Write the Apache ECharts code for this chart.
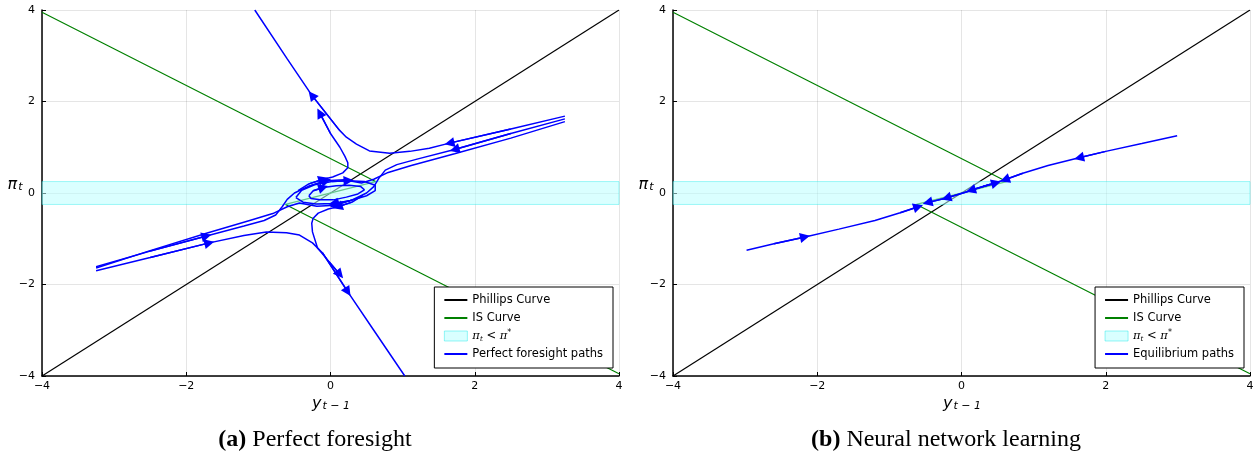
<!DOCTYPE html>
<html>
<head>
<meta charset="utf-8">
<script src="https://cdn.jsdelivr.net/npm/echarts@6/dist/echarts.min.js"></script>
<style>html,body{margin:0;padding:0;background:#fff}#c{width:1257px;height:461px}</style>
</head>
<body>
<div id="c"></div>
<script>
// ---------- data ----------
const ticks = [-4, -2, 0, 2, 4];
const phillipsX = [-4, 4];
const phillipsY = [-4, 4];
const isX = [-4, 0.625, -0.625, 4];
const isY = [3.95, 0.25, -0.25, -3.95];
const bandLow = -0.25, bandHigh = 0.25;

// (a) perfect foresight paths  [y_{t-1}, pi_t]
const pathA  = [[3.25,1.68],[2.5,1.40],[1.65,1.09],[1.37,0.98],[1.1,0.91],[0.82,0.87],[0.54,0.92],[0.36,1.07],[0.22,1.22],[0.12,1.38],[-0.26,2.14],[-0.6,2.93],[-1.05,4.0]];
const pathA2 = [[-3.25,-1.70],[-2.5,-1.41],[-1.68,-1.09],[-1.2,-0.93],[-0.89,-0.85],[-0.61,-0.87],[-0.43,-0.92],[-0.25,-1.09],[-0.11,-1.31],[0.24,-2.16],[0.6,-3.0],[1.03,-4.0]];
const pathP3 = [[3.25,1.62],[2.5,1.30],[1.72,0.95],[1.2,0.74],[0.92,0.62],[0.76,0.5],[0.67,0.32],[0.6,0.14],[0.5,0.0],[0.3,-0.15],[0.06,-0.27],[-0.19,-0.29],[-0.43,-0.22],[-0.6,-0.3],[-0.8,-0.45],[-1.12,-0.6],[-1.72,-0.88],[-2.5,-1.26],[-3.25,-1.64]];
const pathP4 = [[-3.25,-1.61],[-2.5,-1.27],[-1.72,-0.94],[-1.2,-0.72],[-0.92,-0.6],[-0.76,-0.48],[-0.67,-0.3],[-0.6,-0.14],[-0.5,0.0],[-0.3,0.15],[-0.06,0.27],[0.19,0.29],[0.43,0.22],[0.6,0.3],[0.8,0.45],[1.12,0.6],[1.72,0.86],[2.5,1.2],[3.25,1.56]];
const loop1  = [[-0.48,-0.1],[-0.4,0.06],[-0.22,0.18],[0.02,0.25],[0.25,0.27],[0.47,0.25],[0.62,0.17],[0.62,0.05],[0.5,-0.06],[0.27,-0.17],[0.04,-0.23],[-0.2,-0.24],[-0.38,-0.2],[-0.48,-0.1]];
const loop2  = [[-0.3,-0.06],[-0.24,0.05],[-0.1,0.12],[0.08,0.16],[0.26,0.17],[0.42,0.14],[0.47,0.07],[0.38,-0.02],[0.22,-0.09],[0.04,-0.15],[-0.14,-0.15],[-0.27,-0.12],[-0.3,-0.06]];
const pathB  = [[-0.45,0.05],[-0.3,0.2],[-0.1,0.3],[0.03,0.35],[0.17,0.44],[0.24,0.55],[0.24,0.66],[0.2,0.8],[0.13,1.0],[0.0,1.3],[-0.15,1.75]];
const pathB2 = [[0.45,-0.05],[0.3,-0.2],[0.1,-0.3],[-0.03,-0.35],[-0.17,-0.44],[-0.24,-0.55],[-0.26,-0.66],[-0.25,-0.85],[-0.18,-1.2],[-0.02,-1.5],[0.13,-1.78]];
const pathsLeft = [pathA, pathA2, pathP3, pathP4, loop1, loop2, pathB, pathB2];
// arrow heads: [path index, point index]
const arrowsLeft = [[0,2],[0,10],[1,2],[1,9],[2,2],[2,10],[3,2],[3,10],[4,4],[4,10],[5,2],[6,2],[6,10],[7,2],[7,10]];

// (b) neural network learning paths
const pathR1 = [[2.99,1.25],[2.5,1.08],[2.0,0.91],[1.63,0.77],[1.2,0.6],[0.85,0.43],[0.6,0.29],[0.4,0.19],[0.13,0.06]];
const pathR2 = [[-2.98,-1.25],[-2.6,-1.11],[-2.17,-0.96],[-1.7,-0.79],[-1.2,-0.6],[-0.85,-0.43],[-0.6,-0.3]];
const pathR3 = [[0.13,0.06],[0.3,0.14],[0.48,0.22]];
const pathR4 = [[0.1,0.04],[-0.21,-0.11],[-0.47,-0.21]];
const pathsRight = [pathR1, pathR2, pathR3, pathR4];
const arrowsRight = [[0,3],[0,6],[0,8],[1,2],[1,6],[2,2],[3,1],[3,2]];

// ---------- build ----------
const BLUE = '#0000ff', GREEN = '#008000';
const fmt = v => v < 0 ? '\u2212' + Math.abs(v) : String(v);
const zip = (a, b) => a.map((v, i) => [v, b[i]]);

function axis(idx, isX) {
  return {
    type: 'value', gridIndex: idx, min: -4, max: 4, interval: 2,
    axisLine: { show: true, onZero: false, lineStyle: { color: '#000', width: 1.5 } },
    axisTick: { show: true, inside: true, length: 4, lineStyle: { color: '#000', width: 1 } },
    axisLabel: { color: '#000', fontSize: 11, fontFamily: 'DejaVu Sans', margin: isX ? 5 : 7, formatter: fmt },
    splitLine: { show: true, showMinLine: true, showMaxLine: true, lineStyle: { color: 'rgba(0,0,0,0.1)', width: 1 } }
  };
}

function panelSeries(idx, paths, arrows, pathName) {
  const s = [];
  s.push({ name: 'Phillips Curve', type: 'line', xAxisIndex: idx, yAxisIndex: idx, data: zip(phillipsX, phillipsY),
    symbol: 'none', lineStyle: { color: '#000', width: 1.2 }, itemStyle: { color: '#000' }, z: 2, silent: true, animation: false });
  s.push({ name: 'IS Curve', type: 'line', xAxisIndex: idx, yAxisIndex: idx, data: zip(isX, isY),
    symbol: 'none', lineStyle: { color: GREEN, width: 1.2 }, itemStyle: { color: GREEN }, z: 2, silent: true, animation: false });
  s.push({ name: 'band', type: 'line', xAxisIndex: idx, yAxisIndex: idx, data: [],
    symbol: 'none', itemStyle: { color: 'rgba(0,255,255,0.15)' }, animation: false,
    markArea: { silent: true, z: 3, animation: false,
      itemStyle: { color: 'rgba(188,255,255,0.55)', borderColor: 'rgba(0,230,230,0.35)', borderWidth: 1 },
      data: [[{ yAxis: bandLow }, { yAxis: bandHigh }]] } });
  paths.forEach(p => s.push({ name: pathName, type: 'line', xAxisIndex: idx, yAxisIndex: idx, data: p,
    symbol: 'none', lineStyle: { color: BLUE, width: 1.5 }, itemStyle: { color: BLUE }, z: 5, silent: true, animation: false }));
  s.push({ name: 'arrows' + idx, type: 'lines', coordinateSystem: 'cartesian2d', xAxisIndex: idx, yAxisIndex: idx,
    symbol: ['none', 'triangle'], symbolSize: 10, z: 6, silent: true, animation: false,
    lineStyle: { color: BLUE, width: 1.5, curveness: 0, opacity: 1 },
    data: arrows.map(([pi, k]) => ({ coords: [paths[pi][k - 1], paths[pi][k]] })) });
  return s;
}

const legendRich = {
  m: { fontFamily: 'DejaVu Serif', fontStyle: 'italic', fontSize: 11.5, lineHeight: 14, verticalAlign: 'middle' },
  s: { fontFamily: 'DejaVu Serif', fontStyle: 'italic', fontSize: 7, lineHeight: 7, padding: [6, 0, 0, 0], verticalAlign: 'bottom' },
  p: { fontFamily: 'DejaVu Sans', fontSize: 8, lineHeight: 8, padding: [0, 0, 6, 0], verticalAlign: 'top' }
};
const noSym = { opacity: 0 };
function legend(right, pathName) {
  return {
    orient: 'vertical', right: right, top: 287, itemWidth: 23, itemHeight: 10, itemGap: 4,
    padding: [6, 10, 7, 9], borderColor: '#000', borderWidth: 1, backgroundColor: '#fff', borderRadius: 0,
    selectedMode: false,
    textStyle: { fontFamily: 'DejaVu Sans', fontSize: 11.5, color: '#000', lineHeight: 14, rich: legendRich },
    formatter: n => n === 'band' ? '{m|π}{s|t} < {m|π}{p|*}' : n,
    data: [
      { name: 'Phillips Curve', itemStyle: noSym },
      { name: 'IS Curve', itemStyle: noSym },
      { name: 'band', icon: 'rect', itemStyle: { color: 'rgba(0,255,255,0.15)', borderColor: 'rgba(0,230,230,0.4)', borderWidth: 1 } },
      { name: pathName, itemStyle: noSym }
    ]
  };
}

const axRich = {
  m: { fontFamily: 'DejaVu Sans', fontStyle: 'italic', fontSize: 16, lineHeight: 16, verticalAlign: 'top', fill: '#000' },
  s: { fontFamily: 'DejaVu Sans', fontStyle: 'italic', fontSize: 11, lineHeight: 11, padding: [8, 0, 0, 1], verticalAlign: 'bottom', fill: '#000' }
};
function axisNames(x0) {
  return [
    { type: 'text', x: x0 + 289, y: 404, style: { text: '{m|y}{s|t \u2212 1}', rich: axRich, align: 'center', verticalAlign: 'middle' } },
    { type: 'text', x: x0 - 27, y: 185, style: { text: '{m|π}{s|t}', rich: axRich, align: 'center', verticalAlign: 'middle' } }
  ];
}
const capRich = {
  b: { fontFamily: 'Liberation Serif', fontWeight: 'bold', fontSize: 24, fill: '#000' },
  r: { fontFamily: 'Liberation Serif', fontSize: 24, fill: '#000' }
};

const chart = echarts.init(document.getElementById('c'), null, { renderer: 'canvas' });
chart.setOption({
  animation: false,
  backgroundColor: '#fff',
  grid: [
    { left: 42, top: 10, width: 577, height: 366 },
    { left: 673, top: 10, width: 577, height: 366 }
  ],
  xAxis: [axis(0, true), axis(1, true)],
  yAxis: [axis(0, false), axis(1, false)],
  legend: [legend(644, 'Perfect foresight paths'), legend(13, 'Equilibrium paths')],
  series: [
    ...panelSeries(0, pathsLeft, arrowsLeft, 'Perfect foresight paths'),
    ...panelSeries(1, pathsRight, arrowsRight, 'Equilibrium paths')
  ],
  graphic: [
    ...axisNames(42), ...axisNames(673),
    { type: 'text', x: 315, y: 440, style: { text: '{b|(a)}{r| Perfect foresight}', rich: capRich, align: 'center', verticalAlign: 'middle' } },
    { type: 'text', x: 946, y: 440, style: { text: '{b|(b)}{r| Neural network learning}', rich: capRich, align: 'center', verticalAlign: 'middle' } }
  ]
});
</script>
</body>
</html>
